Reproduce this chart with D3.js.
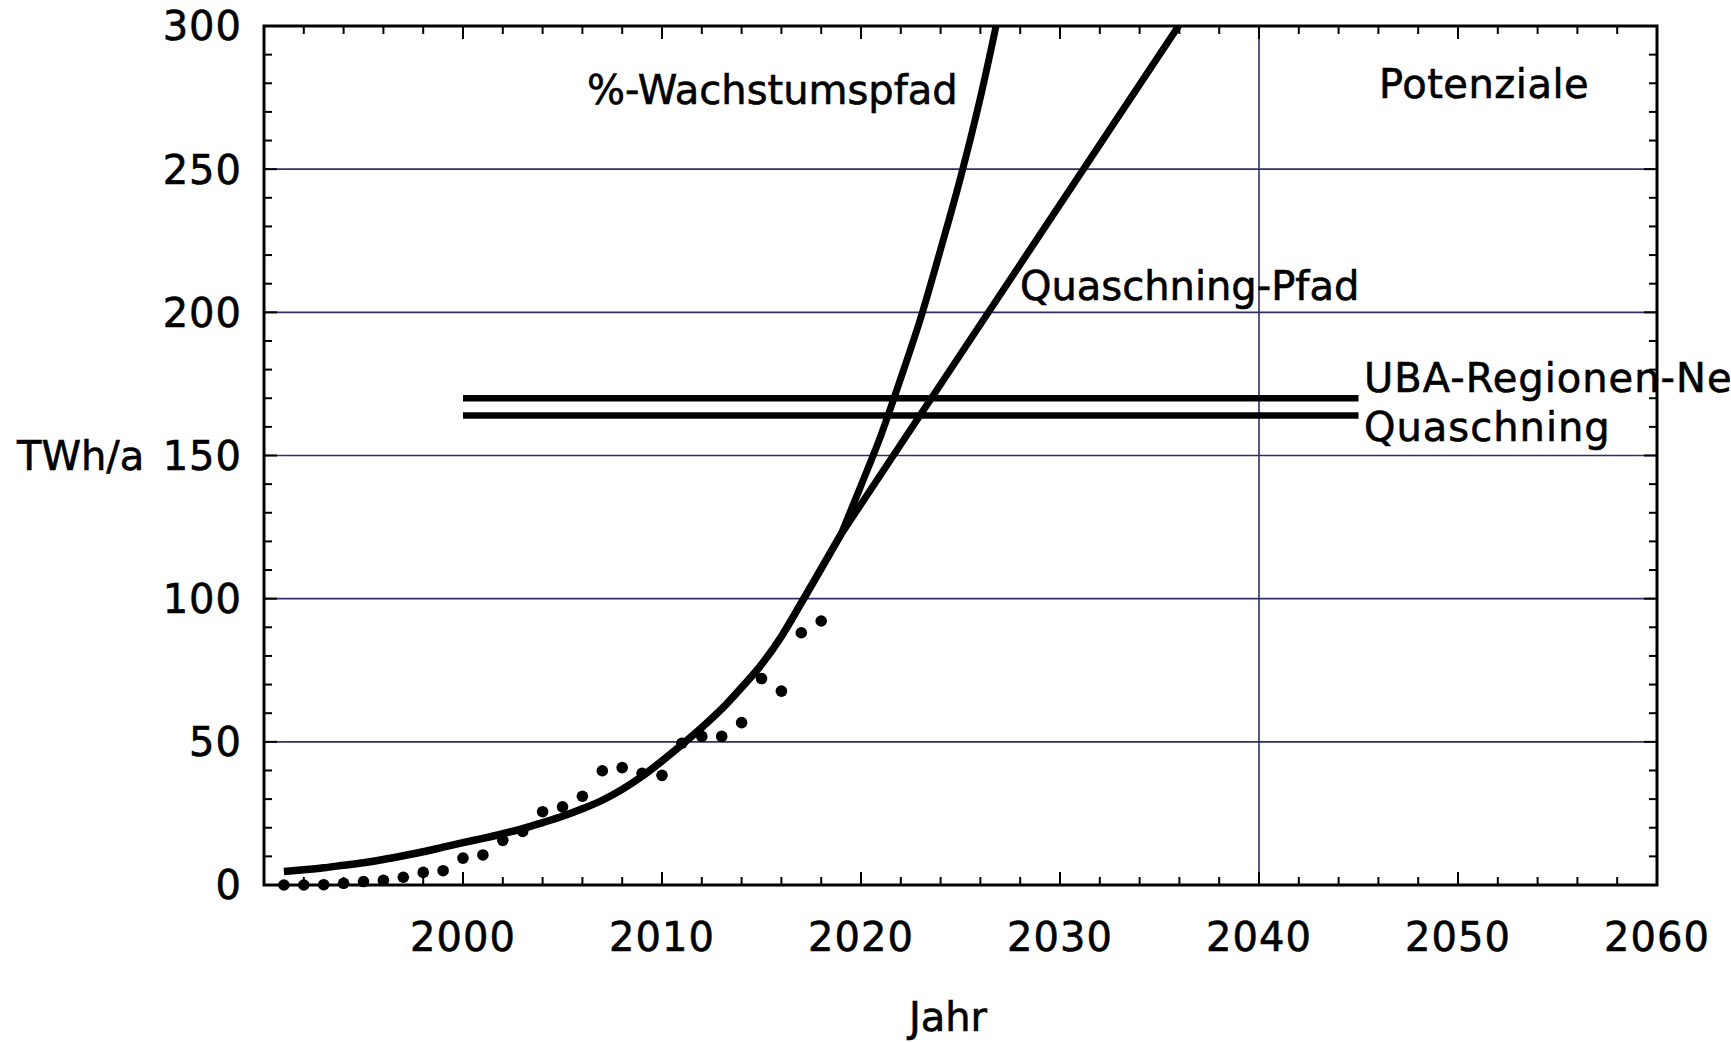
<!DOCTYPE html>
<html>
<head>
<meta charset="utf-8">
<script src="https://cdn.jsdelivr.net/npm/d3@7"></script>
<style>
  html, body { margin: 0; padding: 0; background: #fff; }
  svg { display: block; }
  text { font-family: "DejaVu Sans", Verdana, sans-serif; fill: #000; stroke: #000; stroke-width: 0.6px; }
</style>
</head>
<body>
<svg id="chart" width="1731" height="1042"></svg>
<script>
// ---------- data ----------
const dataYears  = [1991,1992,1993,1994,1995,1996,1997,1998,1999,2000,2001,2002,2003,2004,2005,2006,2007,2008,2009,2010,2011,2012,2013,2014,2015,2016,2017,2018];
const dataValues = [0,0,0.1,0.6,1.2,1.6,2.7,4.4,5.0,9.4,10.5,15.6,18.7,25.6,27.3,31.0,39.9,41.0,39.0,38.3,49.5,51.9,51.9,56.7,72.1,67.7,88.1,92.2];

const fitYears  = [1991,1992,1993,1994,1995,1996,1997,1998,1999,2000,2001,2002,2003,2004,2005,2006,2007,2008,2009,2010,2011,2012,2013,2014,2015,2016,2017,2018,2019];
const fitValues = [4.7,5.3,6.0,6.9,7.8,8.9,10.2,11.6,13.2,14.8,16.3,17.9,19.7,21.8,24.0,26.6,29.6,33.4,38.0,43.3,49.0,55.0,61.5,69.0,77.0,86.8,98.5,110.5,122.5];

const growthYears  = [2019,2020,2021,2022,2023,2024,2025,2026,2027];
const growthValues = [122.5,139.5,157,177,198,222,247,275,307];

const pathYears  = [2019,2026.4,2036.1];
const pathValues = [122.5,200,301.5];

const potentialNames  = ["UBA-Regionen-Ne", "Quaschning"];
const potentialValues = [170, 164];
const potentialFrom = 2000, potentialTo = 2045;

const xTickYears  = [2000,2010,2020,2030,2040,2050,2060];
const yTickValues = [0,50,100,150,200,250,300];
const xDomain = [1990, 2060];
const yDomain = [0, 300];

// ---------- layout ----------
const svg = d3.select("#chart");
const L = 264, R = 1657, T = 26, B = 885;
const x = d3.scaleLinear().domain(xDomain).range([L, R]);
const y = d3.scaleLinear().domain(yDomain).range([B, T]);
const gridColor = "#2f2f66";
const FS = 40;

svg.append("defs").append("clipPath").attr("id","plotClip")
  .append("rect").attr("x", L).attr("y", T).attr("width", R - L).attr("height", B - T);

// gridlines
svg.append("g").selectAll("line").data([50,100,150,200,250]).join("line")
  .attr("x1", L).attr("x2", R).attr("y1", d => y(d)).attr("y2", d => y(d))
  .attr("stroke", gridColor).attr("stroke-width", 1.6);
svg.append("line").attr("x1", x(2040)).attr("x2", x(2040)).attr("y1", T).attr("y2", B)
  .attr("stroke", gridColor).attr("stroke-width", 1.6);

// ticks (inward on all four sides)
const minorX = d3.range(1992, 2060, 2);
const minorY = d3.range(10, 300, 10);
const tickG = svg.append("g").attr("stroke", "#000").attr("stroke-width", 2);
minorX.forEach(v => {
  const len = (v % 10 === 0) ? 13 : 8;
  tickG.append("line").attr("x1", x(v)).attr("x2", x(v)).attr("y1", B).attr("y2", B - len);
  tickG.append("line").attr("x1", x(v)).attr("x2", x(v)).attr("y1", T).attr("y2", T + len);
});
minorY.forEach(v => {
  const len = (v % 50 === 0) ? 13 : 8;
  tickG.append("line").attr("y1", y(v)).attr("y2", y(v)).attr("x1", L).attr("x2", L + len);
  tickG.append("line").attr("y1", y(v)).attr("y2", y(v)).attr("x1", R).attr("x2", R - len);
});

// frame
svg.append("rect").attr("x", L).attr("y", T).attr("width", R - L).attr("height", B - T)
  .attr("fill", "none").attr("stroke", "#000").attr("stroke-width", 3);

// potential lines
svg.append("g").selectAll("line").data(potentialValues).join("line")
  .attr("x1", x(potentialFrom)).attr("x2", x(potentialTo))
  .attr("y1", d => y(d)).attr("y2", d => y(d))
  .attr("stroke", "#000").attr("stroke-width", 6.5);

// curves
const plot = svg.append("g").attr("clip-path", "url(#plotClip)");
const line = d3.line().x(d => x(d[0])).y(d => y(d[1])).curve(d3.curveMonotoneX);
const lineLin = d3.line().x(d => x(d[0])).y(d => y(d[1]));
plot.append("path").datum(fitYears.map((yr,i) => [yr, fitValues[i]]))
  .attr("d", line).attr("fill","none").attr("stroke","#000").attr("stroke-width",7.5);
plot.append("path").datum(growthYears.map((yr,i) => [yr, growthValues[i]]))
  .attr("d", line).attr("fill","none").attr("stroke","#000").attr("stroke-width",7);
plot.append("path").datum(pathYears.map((yr,i) => [yr, pathValues[i]]))
  .attr("d", lineLin).attr("fill","none").attr("stroke","#000").attr("stroke-width",7);

// data points
svg.append("g").selectAll("circle").data(dataYears.map((yr,i) => [yr, dataValues[i]])).join("circle")
  .attr("cx", d => x(d[0])).attr("cy", d => y(d[1])).attr("r", 5.8).attr("fill", "#000");

// axis labels
svg.append("g").selectAll("text").data(yTickValues).join("text")
  .attr("x", 242).attr("y", d => y(d)).attr("dy", "0.36em")
  .attr("text-anchor", "end").attr("font-size", FS).attr("letter-spacing", 1)
  .text(d => d);
svg.append("text").attr("x", 17).attr("y", y(150)).attr("dy", "0.36em")
  .attr("font-size", FS).text("TWh/a");
svg.append("g").selectAll("text").data(xTickYears).join("text")
  .attr("x", d => x(d)).attr("y", 951)
  .attr("text-anchor", "middle").attr("font-size", FS).attr("letter-spacing", 1)
  .text(d => d);
svg.append("text").attr("x", 948).attr("y", 1031).attr("text-anchor", "middle")
  .attr("font-size", FS).text("Jahr");

// annotations
svg.append("text").attr("x", 587).attr("y", 104).attr("font-size", FS).text("%-Wachstumspfad");
svg.append("text").attr("x", 1020).attr("y", 300).attr("font-size", FS).text("Quaschning-Pfad");
svg.append("text").attr("x", 1379).attr("y", 98).attr("font-size", FS).attr("letter-spacing", 0.5).text("Potenziale");
svg.append("text").attr("x", 1364).attr("y", 392).attr("font-size", FS).attr("letter-spacing", 1).text(potentialNames[0]);
svg.append("text").attr("x", 1364).attr("y", 441).attr("font-size", FS).attr("letter-spacing", 1).text(potentialNames[1]);
</script>
</body>
</html>
